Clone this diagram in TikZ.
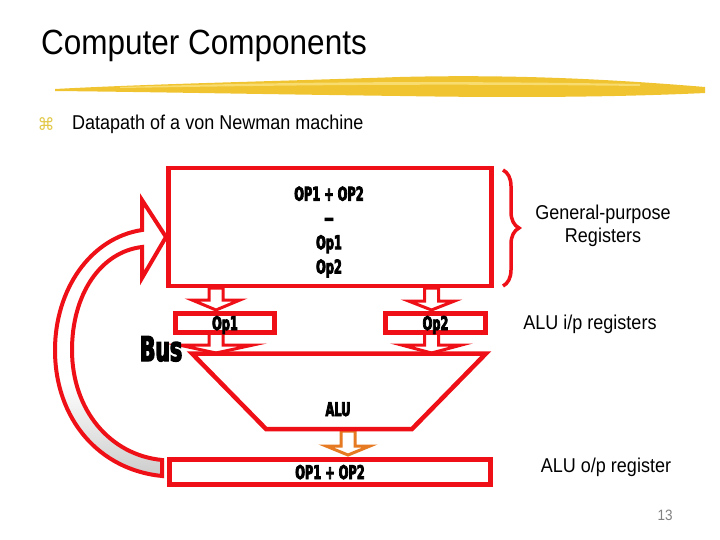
\documentclass[tikz,border=0pt]{standalone}
\usepackage{fontspec}
\setmainfont[FakeStretch=0.9]{Liberation Sans}
\newfontfamily\blockfont[FakeStretch=0.6,FakeBold=4]{DejaVu Sans}
\newfontfamily\symbfont{DejaVu Sans}
\usetikzlibrary{decorations.pathreplacing}
\definecolor{regred}{RGB}{238,16,22}
\definecolor{aluorange}{RGB}{230,122,34}
\definecolor{brushgold}{RGB}{240,196,48}
\definecolor{brushlight}{RGB}{248,220,112}
\definecolor{bulletgold}{RGB}{226,200,70}
\pgfdeclareverticalshading{bandshade}{100bp}{color(0bp)=(gray!40); color(25bp)=(gray!40); color(42bp)=(white); color(100bp)=(white)}
% style, x, top, tip, half head, head length
\newcommand{\blockdown}[6]{\draw[#1] (#2-7,#3) -- (#2-7,#4-#6) -- (#2-#5,#4-#6) -- (#2,#4) -- (#2+#5,#4-#6) -- (#2+7,#4-#6) -- (#2+7,#3) -- cycle;}

\begin{document}
\begin{tikzpicture}[x=1pt,y=-1pt,
    reg/.style={draw=regred,line width=4.5pt,fill=white,inner sep=1pt,text depth=0pt},
    blocktext/.style={font=\blockfont\bfseries\fontsize{19}{24.3}\selectfont},
    sidetext/.style={font=\fontsize{20}{23}\selectfont,align=center,inner sep=0pt},
    hollow/.style={draw=regred,line width=3pt,fill=white,line join=miter}]
    \useasboundingbox (0,0) rectangle (720,540);
    \fill[white] (0,0) rectangle (720,540);

    % title and brush stroke
    \node[anchor=base west,inner sep=0pt,font=\fontsize{35}{40}\selectfont] (title) at (41,55) {Computer Components};
    \fill[brushgold] (55,89) .. controls (150,84) and (250,82) .. (400,77) .. controls (520,74) and (620,80) .. (705,87)
        -- (705,93) .. controls (620,97) and (520,98) .. (400,96) .. controls (250,94) and (150,92) .. (55,91) -- cycle;
    \fill[brushlight] (120,87) .. controls (250,83) and (400,80) .. (640,84) -- (640,86) .. controls (400,83) and (250,86) .. (120,88) -- cycle;
    \node[inner sep=0pt,text=bulletgold,font=\symbfont\fontsize{17}{17}\selectfont] (bullet) at (46,124) {⌘};
    \node[anchor=base west,inner sep=0pt,font=\fontsize{20}{24}\selectfont] (subtitle) at (72,130) {Datapath of a von Newman machine};

    % curved bus arrow
    \draw[hollow,line width=4pt,shading=bandshade]
        (162,476) .. controls (100,470) and (55,420) .. (55,350) .. controls (55,290) and (90,238) .. (142,230)
        -- (142,200) -- (166,237) -- (142,278) -- (142,247)
        .. controls (100,252) and (72,295) .. (72,350) .. controls (72,410) and (110,455) .. (162,460) -- cycle;

    % block arrows
    \blockdown{hollow}{216}{288}{310}{24}{10}
    \blockdown{hollow}{431.5}{288}{310}{23}{9}
    \blockdown{hollow}{216}{333}{353}{37}{8}
    \blockdown{hollow}{431.5}{333}{353}{30}{8}
    \blockdown{hollow,draw=aluorange}{348}{431}{455}{22}{9}

    % registers
    \node[reg,minimum width=323pt,minimum height=118pt] (regs) at (330,227) {};
    \node[blocktext,align=center] (regtext) at (329,232) {OP1 + OP2\\-{}-\\Op1\\Op2};
    \node[reg,blocktext,minimum width=99pt,minimum height=19pt] (opa) at (225,323) {Op1};
    \node[reg,blocktext,minimum width=100pt,minimum height=19pt] (opb) at (435.5,323) {Op2};
    \node[reg,blocktext,minimum width=321pt,minimum height=25pt] (outreg) at (330,472) {OP1 + OP2};

    % ALU
    \draw[draw=regred,line width=4.5pt,fill=white,line join=miter] (192,353.5) -- (486,353.5) -- (412,429) -- (266,429) -- cycle;
    \node[blocktext,anchor=base] (alu) at (338,416) {ALU};
    \node[blocktext,font=\blockfont\bfseries\fontsize{34}{34}\selectfont,anchor=base,inner sep=0pt] (bus) at (161,361) {Bus};

    \draw[regred,line width=3.5pt,decorate,decoration={brace,amplitude=16pt}] (503,170) -- (503,286);

    \node[sidetext] (gpr) at (603,226) {General-purpose\\Registers};
    \node[sidetext,anchor=base] (aluin) at (590,329) {ALU i/p registers};
    \node[sidetext,anchor=base] (aluout) at (606,472) {ALU o/p register};
    \node[anchor=base,inner sep=0pt,text=gray,font=\fontsize{15}{15}\selectfont] (pageno) at (665,520) {13};
\end{tikzpicture}
\end{document}
